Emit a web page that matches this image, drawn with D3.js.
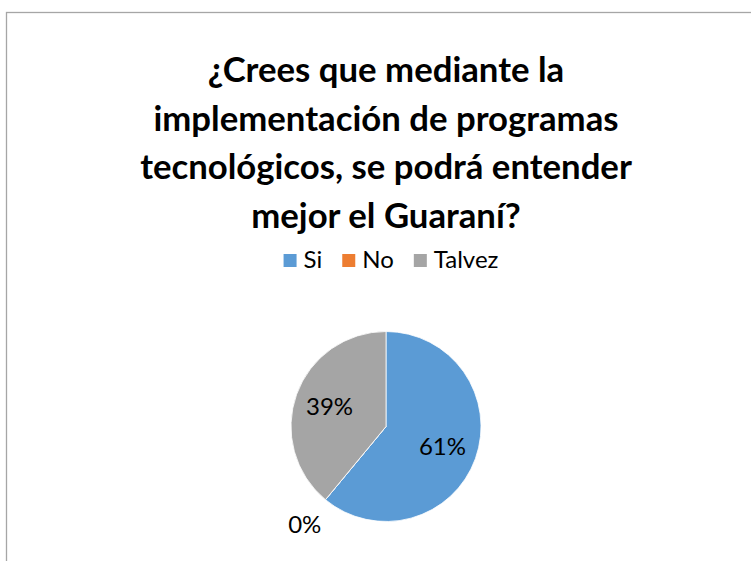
<!DOCTYPE html>
<html>
<head>
<meta charset="utf-8">
<script src="https://cdn.jsdelivr.net/npm/d3@7"></script>
<style>
  body { margin: 0; background: #fff; }
  svg { display: block; font-family: Lato, "Open Sans", sans-serif; }
</style>
</head>
<body>
<div id="chart-area"></div>
<script>
// Data
var categories = ['Si', 'No', 'Talvez'];
var values = [61, 0, 39];
var labels = ['61%', '0%', '39%'];
var colors = ['#5B9BD5', '#ED7D31', '#A5A5A5'];
var titleLines = [
    '¿Crees que mediante la',
    'implementación de programas',
    'tecnológicos, se podrá entender',
    'mejor el Guaraní?'
];

var width = 751, height = 561;
var cx = 386, cy = 426.5, radius = 95;

var svg = d3.select('#chart-area')
    .append('svg')
        .attr('width', width)
        .attr('height', height);

// Chart border (right and bottom fall outside the picture)
svg.append('rect')
    .attr('x', 6.5)
    .attr('y', 12.5)
    .attr('width', 800)
    .attr('height', 600)
    .attr('fill', 'none')
    .attr('stroke', '#a6a6a6')
    .attr('stroke-width', 1.3);

// Title
var title = svg.append('g')
    .attr('font-weight', 'bold')
    .attr('text-anchor', 'middle')
    .attr('fill', '#000');

title.selectAll('text')
    .data(titleLines)
    .enter()
    .append('text')
        .attr('x', cx)
        .attr('y', function(d, i){ return 82 + i * 48.5; })
        .attr('font-size', '30px')
        .text(function(d){ return d; });

// fit title so the longest line is about 492px wide
var longest = 0;
title.selectAll('text').each(function(){
    longest = Math.max(longest, this.getComputedTextLength());
});
title.selectAll('text').attr('font-size', (30 * 492 / longest) + 'px');

// Legend
var legend = svg.append('g');
var items = legend.selectAll('g')
    .data(categories)
    .enter()
    .append('g');

items.append('rect')
    .attr('width', 13)
    .attr('height', 13)
    .attr('y', 254)
    .attr('fill', function(d, i){ return colors[i]; });

items.append('text')
    .attr('x', 20)
    .attr('y', 268)
    .attr('font-size', '24px')
    .attr('fill', '#000')
    .text(function(d){ return d; });

var lx = 0;
items.each(function(){
    var g = d3.select(this);
    g.attr('transform', 'translate(' + lx + ',0)');
    lx += 20 + g.select('text').node().getComputedTextLength() + 20;
});
lx -= 20;
legend.attr('transform', 'translate(' + (391 - lx / 2) + ',0)');

// Pie
var pie = d3.pie()
    .sort(null)
    .value(function(d){ return d; });

var arc = d3.arc()
    .innerRadius(0)
    .outerRadius(radius);

var labelArc = d3.arc()
    .innerRadius(60 * 2 - radius)
    .outerRadius(radius);

var outerLabelArc = d3.arc()
    .innerRadius(127.5 * 2 - radius)
    .outerRadius(radius);

var pg = svg.append('g')
    .attr('transform', 'translate(' + cx + ',' + cy + ')');

var arcs = pie(values);

pg.selectAll('path')
    .data(arcs)
    .enter()
    .append('path')
        .attr('d', arc)
        .attr('fill', function(d, i){ return colors[i]; })
        .attr('stroke', '#fff')
        .attr('stroke-width', 0.8);

pg.selectAll('text')
    .data(arcs)
    .enter()
    .append('text')
        .attr('transform', function(d){
            var c = d.value > 0 ? labelArc.centroid(d) : outerLabelArc.centroid(d);
            return 'translate(' + c[0] + ',' + c[1] + ')';
        })
        .attr('text-anchor', 'middle')
        .attr('dy', '0.35em')
        .attr('font-size', '24px')
        .attr('fill', '#000')
        .text(function(d, i){ return labels[i]; });
</script>
</body>
</html>
